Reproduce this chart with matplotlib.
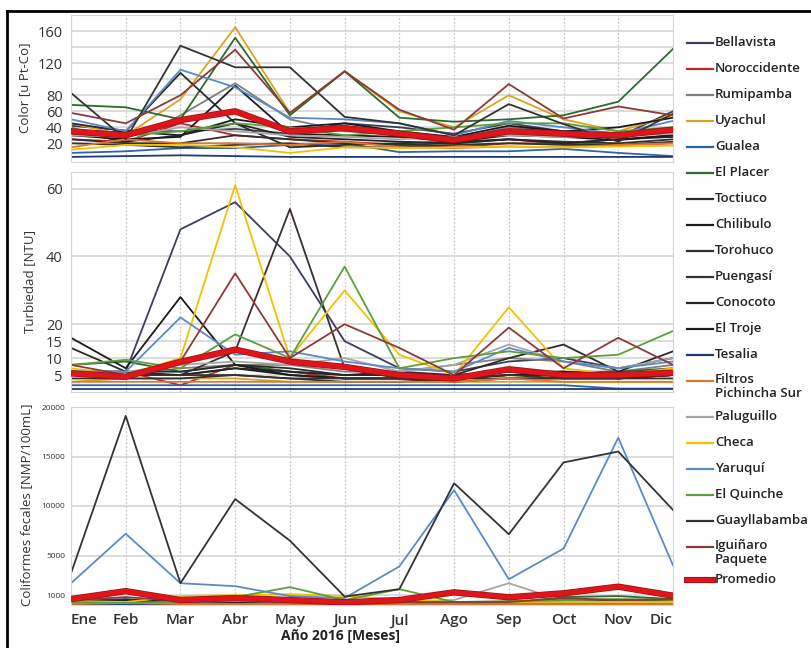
import matplotlib
matplotlib.use("Agg")
import matplotlib.pyplot as plt
from matplotlib.lines import Line2D

plt.rcParams['font.family'] = ['Open Sans', 'DejaVu Sans']

meses = ['Ene', 'Feb', 'Mar', 'Abr', 'May', 'Jun', 'Jul', 'Ago', 'Sep', 'Oct', 'Nov', 'Dic']

plantas = ['Bellavista', 'Noroccidente', 'Rumipamba', 'Uyachul', 'Gualea', 'El Placer',
           'Toctiuco', 'Chilibulo', 'Torohuco', 'Puengasí', 'Conocoto', 'El Troje',
           'Tesalia', 'Filtros\nPichincha Sur', 'Paluguillo', 'Checa', 'Yaruquí',
           'El Quinche', 'Guayllabamba', 'Iguiñaro\nPaquete']

colores = ['#3a3f5c', '#c0282d', '#7f7f7f', '#d9a520', '#2f63a8', '#2d6a2d',
           '#2b2b2b', '#1a1a1a', '#303030', '#3b2f2f', '#262626', '#1c1c1c',
           '#1f3a7a', '#e0782a', '#a6a6a6', '#f2c200', '#5b8ac4',
           '#5c9e3c', '#333333', '#8b3a3a']

# Color [u Pt-Co]
color = [
    [42, 36, 35, 38, 32, 45, 40, 32, 45, 35, 28, 60],      # Bellavista
    [25, 22, 45, 30, 25, 22, 18, 15, 20, 20, 18, 20],      # Noroccidente
    [40, 20, 55, 95, 50, 35, 32, 25, 40, 35, 30, 38],      # Rumipamba
    [45, 30, 75, 165, 58, 110, 60, 40, 80, 50, 35, 55],    # Uyachul
    [8, 10, 14, 14, 18, 20, 9, 10, 10, 13, 8, 4],          # Gualea
    [68, 65, 50, 152, 55, 110, 52, 47, 50, 55, 72, 138],   # El Placer
    [45, 35, 108, 45, 15, 18, 20, 22, 25, 20, 25, 30],     # Toctiuco
    [30, 35, 30, 50, 40, 45, 35, 28, 42, 35, 40, 52],      # Chilibulo
    [25, 20, 20, 30, 25, 20, 18, 20, 25, 22, 20, 25],      # Torohuco
    [20, 18, 15, 18, 20, 15, 15, 18, 20, 18, 18, 22],      # Puengasí
    [35, 22, 30, 45, 28, 25, 22, 20, 25, 20, 25, 28],      # Conocoto
    [30, 25, 28, 92, 32, 30, 28, 22, 30, 28, 24, 30],      # El Troje
    [3, 4, 5, 4, 3, 3, 3, 3, 3, 3, 3, 3],                  # Tesalia
    [15, 25, 20, 20, 18, 22, 15, 14, 16, 15, 18, 20],      # Filtros Pichincha Sur
    [30, 28, 40, 35, 30, 28, 25, 28, 30, 28, 30, 32],      # Paluguillo
    [12, 18, 18, 15, 8, 15, 14, 15, 16, 15, 16, 17],       # Checa
    [50, 35, 112, 90, 52, 50, 45, 30, 48, 40, 32, 48],     # Yaruquí
    [35, 30, 35, 45, 40, 30, 35, 40, 45, 45, 35, 40],      # El Quinche
    [83, 25, 142, 115, 115, 53, 45, 30, 69, 44, 22, 57],   # Guayllabamba
    [58, 45, 80, 137, 58, 110, 62, 37, 94, 51, 66, 55],    # Iguiñaro Paquete
]
color_prom = [35, 30, 49, 60, 35, 39, 32, 24, 35, 32, 30, 37]

# Turbiedad [NTU]
turbiedad = [
    [6, 6, 48, 56, 40, 15, 7, 6, 9, 10, 7, 10],            # Bellavista
    [6, 6, 2, 8, 6, 4, 4, 4, 5, 5, 4, 5],                  # Noroccidente
    [5, 5, 7, 8, 8, 6, 6, 8, 10, 9, 6, 8],                 # Rumipamba
    [3, 4, 4, 4, 3, 3, 3, 3, 3, 3, 3, 3],                  # Uyachul
    [2, 2, 2, 2, 2, 2, 2, 2, 2, 2, 1, 1],                  # Gualea
    [8, 9, 6, 8, 6, 5, 5, 5, 6, 6, 6, 7],                  # El Placer
    [13, 6, 6, 8, 7, 5, 6, 5, 10, 14, 6, 12],              # Toctiuco
    [5, 5, 5, 7, 5, 4, 4, 4, 5, 5, 5, 5],                  # Chilibulo
    [4, 4, 4, 5, 4, 3, 3, 4, 4, 4, 4, 4],                  # Torohuco
    [6, 5, 5, 12, 54, 7, 4, 3, 4, 4, 4, 5],                # Puengasí
    [6, 6, 5, 7, 6, 5, 5, 5, 6, 6, 5, 6],                  # Conocoto
    [16, 7, 28, 8, 5, 4, 4, 4, 5, 6, 4, 5],                # El Troje
    [1, 1, 1, 1, 1, 1, 1, 1, 1, 1, 1, 1],                  # Tesalia
    [3, 3, 3, 3, 3, 3, 3, 3, 4, 3, 3, 3],                  # Filtros Pichincha Sur
    [6, 6, 8, 9, 8, 10, 6, 8, 14, 9, 7, 10],               # Paluguillo
    [7, 5, 10, 61, 10, 30, 11, 5, 25, 7, 5, 7],            # Checa
    [6, 6, 22, 11, 12, 9, 7, 6, 13, 9, 7, 9],              # Yaruquí
    [8, 9.5, 7, 17, 10, 37, 7, 10, 12, 10, 11, 18],        # El Quinche
    [5, 5, 5, 5, 4, 4, 4, 4, 5, 4, 4, 5],                  # Guayllabamba
    [8, 5, 9, 35, 10, 20, 13, 5, 19, 7, 16, 8],            # Iguiñaro Paquete
]
turbiedad_prom = [5.5, 4.5, 8.9, 12.5, 9, 7.4, 5, 4, 6.7, 5, 5, 5.7]

# Coliformes fecales [NMP/100mL]
coliformes = [
    [400, 600, 300, 500, 300, 200, 300, 300, 300, 500, 400, 400],
    [300, 300, 200, 300, 200, 100, 200, 200, 200, 300, 200, 300],
    [200, 200, 200, 200, 200, 100, 100, 100, 100, 200, 200, 200],
    [100, 100, 100, 100, 100, 100, 100, 100, 100, 100, 100, 100],
    [100, 200, 100, 100, 100, 100, 100, 100, 100, 100, 100, 100],
    [300, 400, 200, 300, 200, 100, 200, 300, 200, 800, 900, 600],
    [200, 300, 200, 200, 200, 100, 200, 200, 300, 600, 300, 500],
    [100, 200, 100, 100, 100, 100, 100, 100, 100, 200, 100, 200],
    [100, 100, 100, 200, 100, 100, 100, 100, 100, 100, 100, 100],
    [200, 300, 200, 300, 200, 100, 200, 200, 200, 300, 200, 300],
    [300, 500, 300, 300, 200, 200, 200, 300, 300, 500, 300, 400],
    [200, 300, 200, 200, 200, 100, 200, 200, 200, 300, 300, 300],
    [100, 100, 100, 100, 100, 100, 100, 100, 100, 100, 100, 100],
    [100, 200, 100, 100, 100, 100, 100, 100, 100, 100, 100, 100],
    [300, 200, 300, 400, 300, 200, 300, 500, 2200, 400, 300, 300],
    [400, 300, 900, 1000, 1100, 900, 600, 300, 300, 300, 300, 300],
    [2200, 7200, 2200, 1900, 900, 700, 3900, 11600, 2600, 5700, 16900, 4000],
    [300, 200, 300, 800, 1800, 500, 1600, 300, 400, 500, 600, 500],
    [3200, 19100, 2200, 10700, 6500, 850, 1600, 12300, 7150, 14400, 15500, 9600],
    [500, 800, 400, 600, 400, 300, 300, 300, 300, 700, 500, 600],
]
coliformes_prom = [600, 1400, 500, 700, 500, 270, 500, 1280, 780, 1180, 1850, 940]

fig = plt.figure(figsize=(8.12, 6.48), dpi=100)
W, H = 812, 648


def add_axes(top, bottom):
    return fig.add_axes([71 / W, 1 - bottom / H, (673 - 71) / W, (bottom - top) / H])


ax1 = add_axes(15.3, 162.5)
ax2 = add_axes(171.7, 392)
ax3 = add_axes(407, 605)

x = list(range(len(meses)))
paneles = [(ax1, color, color_prom), (ax2, turbiedad, turbiedad_prom),
           (ax3, coliformes, coliformes_prom)]

for ax, datos, prom in paneles:
    for serie, c in zip(datos, colores):
        ax.plot(x, serie, color=c, lw=1.3)
    ax.plot(x, prom, color='#9e1010', lw=4.6, zorder=5)
    ax.plot(x, prom, color='#e0141b', lw=3.6, zorder=6)
    ax.set_xlim(0, 11)
    ax.set_xticks(x)
    ax.grid(axis='y', which='both', color='#d2d2d2', lw=1.1)
    ax.grid(axis='x', color='#c8c8c8', lw=0.9, ls=(0, (1.5, 1.5)))
    ax.set_axisbelow(True)
    for s in ax.spines.values():
        s.set_color('#d6d6d6')
    ax.tick_params(length=0, pad=6, labelcolor='#333333')
    ax.tick_params(axis='y', which='minor', length=0)

ax1.set_ylim(-4, 180)
ax1.set_yticks([20, 40, 60, 80, 120, 160])
ax1.set_yticks([100, 140, 180], minor=True)
ax1.tick_params(axis='y', labelsize=10.5)
ax1.set_xticklabels([])

ax2.set_ylim(0, 65)
ax2.set_yticks([5, 10, 15, 20, 40, 60])
ax2.tick_params(axis='y', labelsize=10.5)
ax2.set_xticklabels([])

ax3.set_ylim(0, 20000)
ax3.set_yticks([1000, 5000, 10000, 15000, 20000])
ax3.tick_params(axis='y', labelsize=6, pad=4)
ax3.set_xticklabels(meses, fontsize=11, fontweight='semibold')
etiquetas = ax3.get_xticklabels()
etiquetas[0].set_horizontalalignment('left')
etiquetas[-1].set_horizontalalignment('right')

fig.text(25 / W, 1 - 88 / H, 'Color [u Pt-Co]', rotation=90, ha='center', va='center',
         fontsize=9.5, color='#333333')
fig.text(30 / W, 1 - 282 / H, 'Turbiedad [NTU]', rotation=90, ha='center', va='center',
         fontsize=9.5, color='#333333')
fig.text(27 / W, 1 - 505 / H, 'Coliformes fecales [NMP/100mL]', rotation=90, ha='center',
         va='center', fontsize=9.5, color='#333333')
fig.text(341 / W, 1 - 636 / H, 'Año 2016 [Meses]', ha='center', va='center', fontsize=10,
         fontweight='bold', color='#222222')

# leyenda dibujada a mano
y = 42.7
for nombre, c in zip(plantas, colores):
    fig.add_artist(Line2D([687 / W, 713 / W], [1 - y / H, 1 - y / H], color=c, lw=1.6))
    if '\n' in nombre:
        fig.text(715 / W, 1 - (y - 8) / H, nombre, ha='left', va='top', fontsize=9.5,
                 fontweight='semibold', linespacing=1.15, color='#222222')
        y += 36
    else:
        fig.text(715 / W, 1 - y / H, nombre, ha='left', va='center', fontsize=9.5,
                 fontweight='semibold', color='#222222')
        y += 26
y -= 3
fig.add_artist(Line2D([687 / W, 713 / W], [1 - y / H, 1 - y / H], color='#9e1010', lw=4.4))
fig.add_artist(Line2D([687 / W, 713 / W], [1 - y / H, 1 - y / H], color='#e0141b', lw=3.2))
fig.text(715 / W, 1 - y / H, 'Promedio', ha='left', va='center', fontsize=9.5,
         fontweight='semibold', color='#222222')

# marco de la figura
fig.add_artist(Line2D([7 / W, 1], [1 - 11 / H, 1 - 11 / H], color='black', lw=2))
fig.add_artist(Line2D([7 / W, 7 / W], [0, 1 - 11 / H], color='black', lw=2))

fig.savefig('out.png', dpi=100)
